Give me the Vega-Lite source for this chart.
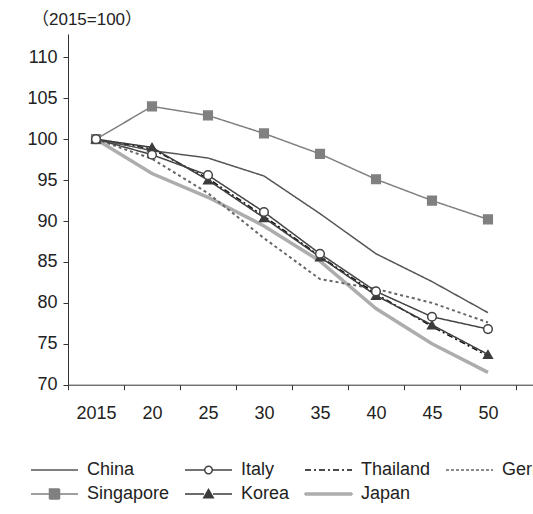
{
  "$schema": "https://vega.github.io/schema/vega-lite/v6.json",
  "autosize": {"type": "none"},
  "padding": {"left": 68, "top": 34, "right": 0, "bottom": 129.3},
  "width": 465,
  "height": 350.7,
  "background": "white",
  "title": {
    "text": "（2015=100）",
    "anchor": "start",
    "font": "Liberation Sans, Noto Sans CJK JP",
    "fontSize": 17,
    "fontWeight": "normal",
    "color": "#222222",
    "offset": 5,
    "dx": 5
  },
  "data": {
    "values": [
      {"country": "Japan", "year": 2015, "value": 100},
      {"country": "Japan", "year": 2020, "value": 95.8},
      {"country": "Japan", "year": 2025, "value": 92.9},
      {"country": "Japan", "year": 2030, "value": 89.4},
      {"country": "Japan", "year": 2035, "value": 85.1},
      {"country": "Japan", "year": 2040, "value": 79.3},
      {"country": "Japan", "year": 2045, "value": 75.0},
      {"country": "Japan", "year": 2050, "value": 71.5},
      {"country": "Germany", "year": 2015, "value": 100},
      {"country": "Germany", "year": 2020, "value": 97.6},
      {"country": "Germany", "year": 2025, "value": 93.4},
      {"country": "Germany", "year": 2030, "value": 87.9},
      {"country": "Germany", "year": 2035, "value": 82.9},
      {"country": "Germany", "year": 2040, "value": 81.7},
      {"country": "Germany", "year": 2045, "value": 80.0},
      {"country": "Germany", "year": 2050, "value": 77.6},
      {"country": "Thailand", "year": 2015, "value": 100},
      {"country": "Thailand", "year": 2020, "value": 98.8},
      {"country": "Thailand", "year": 2025, "value": 95.2},
      {"country": "Thailand", "year": 2030, "value": 90.6},
      {"country": "Thailand", "year": 2035, "value": 85.7},
      {"country": "Thailand", "year": 2040, "value": 81.1},
      {"country": "Thailand", "year": 2045, "value": 77.1},
      {"country": "Thailand", "year": 2050, "value": 73.5},
      {"country": "China", "year": 2015, "value": 100},
      {"country": "China", "year": 2020, "value": 98.6},
      {"country": "China", "year": 2025, "value": 97.7},
      {"country": "China", "year": 2030, "value": 95.5},
      {"country": "China", "year": 2035, "value": 90.9},
      {"country": "China", "year": 2040, "value": 86.0},
      {"country": "China", "year": 2045, "value": 82.6},
      {"country": "China", "year": 2050, "value": 78.8},
      {"country": "Singapore", "year": 2015, "value": 100},
      {"country": "Singapore", "year": 2020, "value": 104.0},
      {"country": "Singapore", "year": 2025, "value": 102.9},
      {"country": "Singapore", "year": 2030, "value": 100.7},
      {"country": "Singapore", "year": 2035, "value": 98.2},
      {"country": "Singapore", "year": 2040, "value": 95.1},
      {"country": "Singapore", "year": 2045, "value": 92.5},
      {"country": "Singapore", "year": 2050, "value": 90.2},
      {"country": "Korea", "year": 2015, "value": 100},
      {"country": "Korea", "year": 2020, "value": 99.0},
      {"country": "Korea", "year": 2025, "value": 95.0},
      {"country": "Korea", "year": 2030, "value": 90.4},
      {"country": "Korea", "year": 2035, "value": 85.6},
      {"country": "Korea", "year": 2040, "value": 80.9},
      {"country": "Korea", "year": 2045, "value": 77.3},
      {"country": "Korea", "year": 2050, "value": 73.7},
      {"country": "Italy", "year": 2015, "value": 100},
      {"country": "Italy", "year": 2020, "value": 98.1},
      {"country": "Italy", "year": 2025, "value": 95.6},
      {"country": "Italy", "year": 2030, "value": 91.1},
      {"country": "Italy", "year": 2035, "value": 86.0},
      {"country": "Italy", "year": 2040, "value": 81.4},
      {"country": "Italy", "year": 2045, "value": 78.3},
      {"country": "Italy", "year": 2050, "value": 76.8}
    ]
  },
  "encoding": {
    "x": {
      "field": "year",
      "type": "quantitative",
      "scale": {"domain": [2012.5, 2054.02], "nice": false, "zero": false},
      "axis": {
        "title": null,
        "values": [2012.5, 2017.5, 2022.5, 2027.5, 2032.5, 2037.5, 2042.5, 2047.5, 2052.5],
        "labelExpr": "datum.value < 2013 ? '2015' : datum.value > 2050 ? '' : slice(toString(datum.value + 2.5), 2, 4)",
        "labelOffset": 28,
        "labelFlush": false,
        "labelOverlap": false,
        "labelAngle": 0,
        "labelFont": "Liberation Sans",
        "labelFontSize": 18,
        "labelColor": "#222222",
        "labelPadding": 15,
        "tickSize": 5,
        "tickColor": "#333333",
        "domainColor": "#333333",
        "domainWidth": 1,
        "grid": false
      }
    },
    "y": {
      "field": "value",
      "type": "quantitative",
      "scale": {"domain": [70, 112.85], "nice": false, "zero": false},
      "axis": {
        "title": null,
        "values": [70, 75, 80, 85, 90, 95, 100, 105, 110],
        "grid": false,
        "labelFont": "Liberation Sans",
        "labelFontSize": 18,
        "labelColor": "#222222",
        "labelPadding": 6,
        "labelFlush": false,
        "tickSize": 5,
        "tickColor": "#333333",
        "domainColor": "#333333",
        "domainWidth": 1
      }
    }
  },
  "layer": [
    {
      "data": {"values": [{"edge": "top"}]},
      "mark": {"type": "rule", "color": "#333333", "strokeWidth": 1.5},
      "encoding": {
        "x": {"datum": 2007.23, "type": "quantitative"},
        "x2": {"datum": 2062},
        "y": {"datum": 112.85, "type": "quantitative"}
      }
    },
    {
      "data": {"values": [{"edge": "left"}]},
      "mark": {"type": "rule", "color": "#333333", "strokeWidth": 1.5},
      "encoding": {
        "x": {"datum": 2007.23, "type": "quantitative"},
        "y": {"datum": 52, "type": "quantitative"},
        "y2": {"datum": 112.85}
      }
    },
    {
      "data": {"values": [{"label": "(Calender years)"}]},
      "mark": {"type": "text", "align": "right", "baseline": "alphabetic", "fontSize": 18, "font": "Liberation Sans", "color": "#222222"},
      "encoding": {
        "x": {"datum": 2052.8, "type": "quantitative"},
        "y": {"datum": 62.26, "type": "quantitative"},
        "text": {"field": "label", "type": "nominal"}
      }
    },
    {
      "transform": [{"filter": {"field": "country", "equal": "Japan"}}],
      "mark": {"type": "line", "strokeWidth": 3.5},
      "encoding": {
        "color": {
          "field": "country",
          "type": "nominal",
          "scale": {
            "domain": ["China", "Italy", "Thailand", "Germany", "Singapore", "Korea", "Japan"],
            "range": ["#555555", "#444444", "#111111", "#666666", "#808080", "#3c3c3c", "#adadad"]
          },
          "legend": {
            "title": null,
            "orient": "none",
            "direction": "horizontal",
            "legendX": -37,
            "legendY": 427,
            "columns": 4,
            "gridAlign": "none",
            "columnPadding": 12,
            "rowPadding": 6,
            "padding": 0,
            "labelFont": "Liberation Sans",
            "labelFontSize": 18,
            "labelColor": "#222222",
            "labelOffset": 38,
            "symbolSize": 100,
            "symbolStrokeWidth": 1.5,
            "symbolType": "stroke",
            "encode": {
              "symbols": {
                "update": {
                  "shape": {"signal": "['M-1.8,0H7.6', 'M-1.8,0H2.15M3.65,0H7.6M3.65,0A0.75 0.75 0 1 1 2.15 0A0.75 0.75 0 1 1 3.65 0', 'M-1.8,0H7.6', 'M-1.8,0H7.6', 'M-1.8,0H1.9M3.9,0H7.6M1.9,-1H3.9V1H1.9Z', 'M-1.8,0H2.0M3.8,0H7.6M2.9,-0.9L3.85,0.75H1.95Z', 'M-1.8,-0.2H7.6V0.2H-1.8Z'][indexof(['China','Italy','Thailand','Germany','Singapore','Korea','Japan'], datum.value)]"},
                  "fill": {"signal": "['transparent','white','transparent','transparent','#808080','#3c3c3c','#adadad'][indexof(['China','Italy','Thailand','Germany','Singapore','Korea','Japan'], datum.value)]"},
                  "strokeDash": {"signal": "[[1,0],[1,0],[6,3,2,3],[3,2],[1,0],[1,0],[1,0]][indexof(['China','Italy','Thailand','Germany','Singapore','Korea','Japan'], datum.value)]"},
                  "opacity": {"value": 1}
                }
              }
            }
          }
        }
      }
    },
    {
      "transform": [{"filter": {"field": "country", "equal": "Germany"}}],
      "mark": {"type": "line", "strokeWidth": 2, "strokeDash": [3, 3]},
      "encoding": {
        "color": {"field": "country", "type": "nominal"}
      }
    },
    {
      "transform": [{"filter": {"field": "country", "oneOf": ["China", "Italy", "Thailand", "Singapore", "Korea"]}}],
      "mark": {"type": "line", "strokeWidth": 1.5},
      "encoding": {
        "color": {"field": "country", "type": "nominal"},
        "strokeDash": {
          "field": "country",
          "type": "nominal",
          "scale": {
            "domain": ["China", "Italy", "Thailand", "Singapore", "Korea"],
            "range": [[1, 0], [1, 0], [6, 3, 2, 3], [1, 0], [1, 0]]
          },
          "legend": null
        }
      }
    },
    {
      "transform": [{"filter": {"field": "country", "oneOf": ["Italy", "Singapore", "Korea"]}}],
      "mark": {"type": "point", "filled": false, "opacity": 1, "strokeWidth": 1.5, "size": 75},
      "encoding": {
        "shape": {
          "field": "country",
          "type": "nominal",
          "scale": {"domain": ["Italy", "Singapore", "Korea"], "range": ["circle", "square", "triangle-up"]},
          "legend": null
        },
        "fill": {
          "field": "country",
          "type": "nominal",
          "scale": {"domain": ["Italy", "Singapore", "Korea"], "range": ["#ffffff", "#808080", "#3c3c3c"]},
          "legend": null
        },
        "stroke": {
          "field": "country",
          "type": "nominal",
          "scale": {"domain": ["Italy", "Singapore", "Korea"], "range": ["#444444", "#808080", "#3c3c3c"]},
          "legend": null
        }
      }
    }
  ],
  "config": {
    "view": {"stroke": null},
    "font": "Liberation Sans"
  }
}
